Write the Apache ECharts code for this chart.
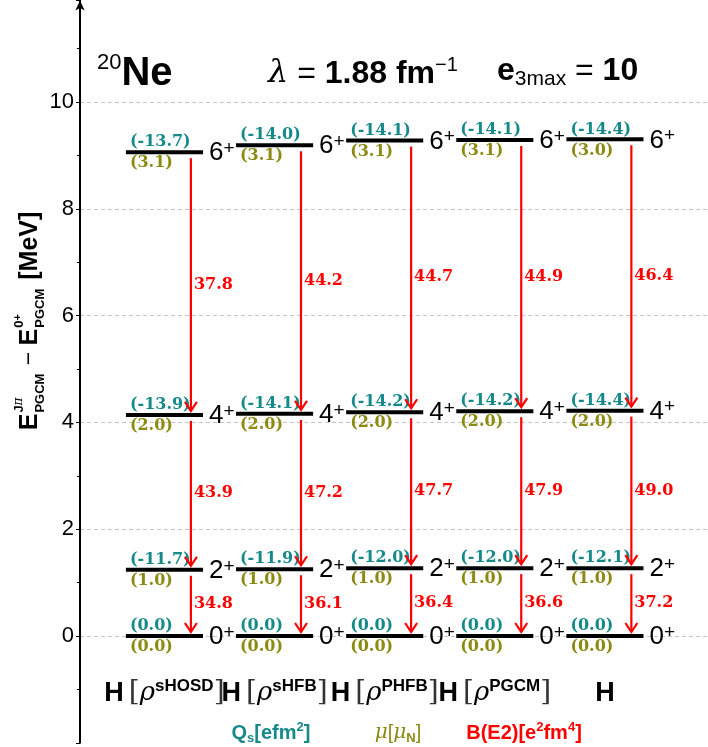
<!DOCTYPE html>
<html><head><meta charset="utf-8">
<script src="https://cdn.jsdelivr.net/npm/echarts@6/dist/echarts.min.js"></script>
<style>html,body{margin:0;padding:0;background:#fff}#c{width:708px;height:747px}</style>
</head><body><div id="c"></div>
<script>
// ---------------- data ----------------
const columnDensities = ['sHOSD', 'sHFB', 'PHFB', 'PGCM', ''];
const spins = ['0', '2', '4', '6'];
// excitation energies (MeV) for 0+, 2+, 4+, 6+ in each column
const energiesCol1 = [0, 1.24, 4.14, 9.06];
const energiesCol2 = [0, 1.25, 4.16, 9.19];
const energiesCol3 = [0, 1.27, 4.19, 9.28];
const energiesCol4 = [0, 1.27, 4.21, 9.29];
const energiesCol5 = [0, 1.27, 4.22, 9.30];
const energies = [energiesCol1, energiesCol2, energiesCol3, energiesCol4, energiesCol5];
// spectroscopic quadrupole moments Qs [e fm^2]
const qsValues = [
  [0.0, -11.7, -13.9, -13.7],
  [0.0, -11.9, -14.1, -14.0],
  [0.0, -12.0, -14.2, -14.1],
  [0.0, -12.0, -14.2, -14.1],
  [0.0, -12.1, -14.4, -14.4]
];
// magnetic moments mu [mu_N]
const muValues = [
  [0.0, 1.0, 2.0, 3.1],
  [0.0, 1.0, 2.0, 3.1],
  [0.0, 1.0, 2.0, 3.1],
  [0.0, 1.0, 2.0, 3.1],
  [0.0, 1.0, 2.0, 3.0]
];
// B(E2) [e^2 fm^4] for 2->0, 4->2, 6->4
const be2Values = [
  [34.8, 43.9, 37.8],
  [36.1, 47.2, 44.2],
  [36.4, 47.7, 44.7],
  [36.6, 47.9, 44.9],
  [37.2, 49.0, 46.4]
];
const yTickInterval = 2;
const columnLabelLevel = -1.07;

// ---------------- styles ----------------
const SANS = '"Liberation Sans", "DejaVu Sans", sans-serif';
const SERIF = '"DejaVu Serif", serif';
const TEAL = '#168a8a', OLIVE = '#8c8a12', RED = '#ff0000';

const levelData = [];
energies.forEach((col, c) => col.forEach((E, l) => levelData.push([c, E, l, qsValues[c][l], muValues[c][l]])));
const arrowData = [];
energies.forEach((col, c) => { for (let l = 1; l < col.length; l++) arrowData.push([c, col[l], col[l - 1], be2Values[c][l - 1]]); });
const labelData = columnDensities.map((d, c) => [c, columnLabelLevel]);

// y-axis title layout (stacked super/subscripts)
const mctx = document.createElement('canvas').getContext('2d');
function tw(font, s) { mctx.font = font; return mctx.measureText(s).width; }
const fE = 'bold 25px ' + SANS, fS = 'bold 13px ' + SANS, fM = '23px ' + SANS;
const ytChildren = [];
let xx = 0;
function addText(x, y, text, font, rich) {
  ytChildren.push({ type: 'text', x: x, y: y, style: { text: text, font: font, fill: '#000', align: 'left', verticalAlign: 'middle', rich: rich } });
}
addText(xx, 0, 'E', fE); xx += tw(fE, 'E') + 1;
addText(xx, -11, '{a|J}{b|π}', fS, { a: { font: 'bold 13px ' + SANS, fill: '#000' }, b: { font: 'italic 12px ' + SERIF, fill: '#000' } });
addText(xx, 10, 'PGCM', fS);
xx += Math.max(tw(fS, 'PGCM'), tw(fS, 'Jπ')) + 2;
addText(xx, 0, ' − ', fM); xx += tw(fM, ' − ');
addText(xx, 0, 'E', fE); xx += tw(fE, 'E') + 1;
addText(xx, -11, '{a|0}{b|+}', fS, { a: { font: 'bold 13px ' + SANS, fill: '#000' }, b: { font: 'bold 11px ' + SANS, fill: '#000', verticalAlign: 'top', lineHeight: 8 } });
addText(xx, 10, 'PGCM', fS);
xx += tw(fS, 'PGCM') + 2;
addText(xx, 0, ' [MeV]', fE); xx += tw(fE, ' [MeV]');
ytChildren.forEach(ch => { ch.x -= xx / 2; });

const chart = echarts.init(document.getElementById('c'), null, { renderer: 'canvas', width: 708, height: 747 });

const option = {
  animation: false,
  backgroundColor: '#fff',
  grid: { left: 80, right: 0, top: 0.5, bottom: 4.2 },
  xAxis: { type: 'value', min: -0.767, max: 4.936, show: false },
  yAxis: {
    type: 'value', min: -2, max: 11.9, interval: yTickInterval,
    axisLine: { show: true, onZero: false, lineStyle: { color: '#000', width: 2 }, symbol: ['none', 'arrow'], symbolSize: [7, 10] },
    axisTick: { show: true, length: 4, lineStyle: { color: '#000' } },
    minorTick: { show: true, splitNumber: 2, length: 3, lineStyle: { color: '#000' } },
    axisLabel: { showMinLabel: false, showMaxLabel: false, fontSize: 22, color: '#000', fontFamily: SANS, margin: 6 },
    splitLine: { show: true, showMinLine: false, showMaxLine: false, lineStyle: { type: [4, 3], color: '#c4c4c4', width: 1 } }
  },
  graphic: [
    { type: 'text', left: 97, top: 52, style: { text: '{s|20}{b|Ne}', rich: {
      s: { font: '22px ' + SANS, fill: '#000', verticalAlign: 'top', lineHeight: 20 },
      b: { font: 'bold 40px ' + SANS, fill: '#000', lineHeight: 44 } } } },
    { type: 'text', left: 268, top: 55, style: { text: '{l|λ}{n| = }{b|1.88 fm}{s|−1}', rich: {
      l: { font: 'italic 32px ' + SERIF, fill: '#000', lineHeight: 38 },
      n: { font: '32px ' + SANS, fill: '#000', lineHeight: 38 },
      b: { font: 'bold 32px ' + SANS, fill: '#000', lineHeight: 38 },
      s: { font: '20px ' + SANS, fill: '#000', verticalAlign: 'top', lineHeight: 20 } } } },
    { type: 'text', left: 497, top: 55, style: { text: '{b|e}{s|3max}{n| = }{b|10}', rich: {
      b: { font: 'bold 32px ' + SANS, fill: '#000', lineHeight: 38 },
      n: { font: '32px ' + SANS, fill: '#000', lineHeight: 38 },
      s: { font: '21px ' + SANS, fill: '#000', verticalAlign: 'bottom', lineHeight: 22 } } } },
    { type: 'group', x: 30, y: 321, rotation: Math.PI / 2, children: ytChildren },
    { type: 'text', x: 271, y: 733, style: { text: '{a|Q}{s|s}{a|[efm}{p|2}{a|]}', align: 'center', verticalAlign: 'middle', rich: {
      a: { font: 'bold 20px ' + SANS, fill: TEAL, lineHeight: 24 },
      s: { font: 'bold 13px ' + SANS, fill: TEAL, verticalAlign: 'bottom', lineHeight: 14 },
      p: { font: 'bold 13px ' + SANS, fill: TEAL, verticalAlign: 'top', lineHeight: 14 } } } },
    { type: 'text', x: 398, y: 733, style: { text: '{m|μ}{a|[}{m|μ}{s|N}{a|]}', align: 'center', verticalAlign: 'middle', rich: {
      m: { font: 'italic 20px ' + SERIF, fill: OLIVE, lineHeight: 24 },
      a: { font: '20px ' + SANS, fill: OLIVE, lineHeight: 24 },
      s: { font: 'bold 13px ' + SANS, fill: OLIVE, verticalAlign: 'bottom', lineHeight: 14 } } } },
    { type: 'text', x: 524, y: 733, style: { text: '{a|B(E2)[e}{p|2}{a|fm}{p|4}{a|]}', align: 'center', verticalAlign: 'middle', rich: {
      a: { font: 'bold 20px ' + SANS, fill: RED, lineHeight: 24 },
      p: { font: 'bold 13px ' + SANS, fill: RED, verticalAlign: 'top', lineHeight: 14 } } } }
  ],
  series: [
    {
      type: 'custom', coordinateSystem: 'cartesian2d', clip: false, z: 5,
      data: levelData,
      renderItem: function (params, api) {
        const c = api.value(0), E = api.value(1), l = api.value(2);
        const qs = api.value(3), mu = api.value(4);
        const p1 = api.coord([c - 0.35, E]), p2 = api.coord([c + 0.35, E]);
        return { type: 'group', children: [
          { type: 'line', shape: { x1: p1[0], y1: p1[1], x2: p2[0], y2: p2[1] }, style: { stroke: '#000', lineWidth: 4 } },
          { type: 'text', style: { text: '(' + qs.toFixed(1) + ')', x: p1[0] + 4, y: p1[1] - 2, align: 'left', verticalAlign: 'bottom', fill: TEAL, font: 'bold 16px ' + SERIF } },
          { type: 'text', style: { text: '(' + mu.toFixed(1) + ')', x: p1[0] + 4, y: p1[1] + 3, align: 'left', verticalAlign: 'top', fill: OLIVE, font: 'bold 16px ' + SERIF } },
          { type: 'text', style: { text: '{n|' + spins[l] + '}{p|+}', x: p2[0] + 6, y: p1[1] + 1, align: 'left', verticalAlign: 'middle', rich: {
            n: { font: '26px ' + SANS, fill: '#000', lineHeight: 28 },
            p: { font: '19px ' + SANS, fill: '#000', verticalAlign: 'top', lineHeight: 17 } } } }
        ] };
      }
    },
    {
      type: 'custom', coordinateSystem: 'cartesian2d', clip: false, z: 6,
      data: arrowData,
      renderItem: function (params, api) {
        const c = api.value(0), Eu = api.value(1), El = api.value(2), b = api.value(3);
        const top = api.coord([c + 0.24, Eu]), bot = api.coord([c + 0.24, El]);
        const x = top[0], y1 = top[1] + 6, y2 = bot[1] - 4;
        return { type: 'group', children: [
          { type: 'line', shape: { x1: x, y1: y1, x2: x, y2: y2 }, style: { stroke: RED, lineWidth: 2.2 } },
          { type: 'polyline', shape: { points: [[x - 6, y2 - 9], [x, y2], [x + 6, y2 - 9]] }, style: { stroke: RED, lineWidth: 2.2, fill: null } },
          { type: 'text', style: { text: b.toFixed(1), x: x + 3, y: (y1 + y2) / 2, align: 'left', verticalAlign: 'middle', fill: RED, font: 'bold 16px ' + SERIF } }
        ] };
      }
    },
    {
      type: 'custom', coordinateSystem: 'cartesian2d', clip: false, z: 5,
      data: labelData,
      renderItem: function (params, api) {
        const c = api.value(0), yv = api.value(1);
        const p = api.coord([c, yv]);
        const d = columnDensities[params.dataIndex];
        const txt = d ? '{h|H}{g| }{b|[}{r|ρ}{s|' + d + '}{b|]}' : '{h|H}';
        return { type: 'text', style: { text: txt, x: p[0], y: p[1], align: 'center', verticalAlign: 'middle', rich: {
          h: { font: 'bold 27px ' + SANS, fill: '#000', lineHeight: 30 },
          g: { font: '18px ' + SANS, fill: '#000', lineHeight: 30 },
          b: { font: '28px ' + SERIF, fill: '#333', lineHeight: 30 },
          r: { font: 'italic 26px ' + SERIF, fill: '#000', lineHeight: 30 },
          s: { font: 'bold 17px ' + SANS, fill: '#000', verticalAlign: 'top', lineHeight: 16 } } } };
      }
    }
  ]
};
chart.setOption(option);
</script>
</body></html>
